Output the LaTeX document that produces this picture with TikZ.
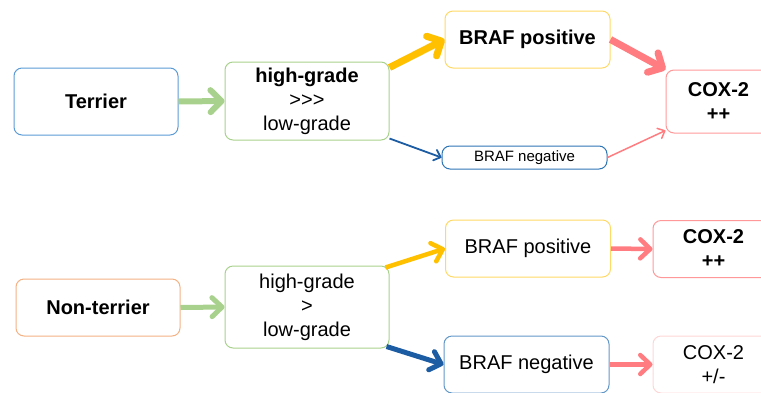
\documentclass[tikz,border=0pt]{standalone}
\usepackage{fontspec}
\setmainfont{Liberation Sans}
\usetikzlibrary{arrows.meta}
\definecolor{terrierblue}{HTML}{5B9BD5}
\definecolor{otherorange}{HTML}{F4B183}
\definecolor{gradegreen}{HTML}{A9D18E}
\definecolor{posyellow}{HTML}{FFD966}
\definecolor{posgold}{HTML}{FFC000}
\definecolor{negblue}{HTML}{2E75B6}
\definecolor{negline}{HTML}{1C5CA3}
\definecolor{coxpink}{HTML}{FF9999}
\definecolor{coxpale}{HTML}{FFD6D6}
\definecolor{arrowpink}{HTML}{FF7C80}
\tikzset{
    box/.style = {rectangle, rounded corners=8pt, draw, line width=1pt, align=center, inner sep=0pt, font=\fontsize{20}{24}\selectfont},
    breed/.style = {box, minimum width=164pt, minimum height=67pt},
    grade/.style = {box, draw=gradegreen, minimum width=164pt, minimum height=80pt},
    braf/.style = {box, minimum width=165pt, minimum height=57pt},
    cox/.style = {box, minimum height=57pt},
    arrowbig/.style = {line width=6pt, -{Straight Barb[round, length=11pt, width=22pt]}},
    arrowmid/.style = {line width=4.5pt, -{Straight Barb[round, length=10pt, width=19pt]}},
    arrowthin/.style = {line width=1.8pt, -{Straight Barb[round, length=6pt, width=11pt]}}
}
\begin{document}
\begin{tikzpicture}[x=1pt, y=-1pt]
\useasboundingbox (0,0) rectangle (761,392);
\clip (0,0) rectangle (761,392);

% terrier row
\node (terrier) [breed, draw=terrierblue] at (96,101.5) {\textbf{Terrier}};
\node (hgtop) [grade, minimum height=78pt] at (307,101) {\textbf{high-grade}\\>{}>{}>\\low-grade};
\node (postop) [braf, draw=posyellow] at (527.5,39.5) {\textbf{BRAF positive}};
\node (negtop) [braf, draw=negblue, minimum height=23pt, font=\fontsize{15}{18}\selectfont] at (524.5,157.5) {BRAF negative};
\node (coxtop) [cox, draw=coxpink, minimum width=105pt, minimum height=63pt] at (718.5,101.5) {\textbf{COX-2}\\\textbf{++}};

% non-terrier row
\node (other) [breed, draw=otherorange, minimum height=57pt] at (98,307.5) {\textbf{Non-terrier}};
\node (hgbot) [grade, minimum height=82pt] at (307,307) {high-grade\\>\\low-grade};
\node (posbot) [braf, draw=posyellow] at (528,248.5) {BRAF positive};
\node (negbot) [braf, draw=negblue!75] at (526.5,364.5) {BRAF negative};
\node (coxbot) [cox, draw=coxpink, minimum width=121pt] at (713.5,249) {\textbf{COX-2}\\\textbf{++}};
\node (coxpm) [cox, draw=coxpale, minimum width=121pt] at (713.5,364.5) {COX-2\\+/-};

\draw [arrowbig, gradegreen] (terrier.east) -- (hgtop.west);
\draw [arrowbig, line width=7pt, posgold] ([yshift=-6pt]hgtop.north east) -- (postop.west);
\draw [arrowthin, negline] ([yshift=2pt]hgtop.south east) -- (negtop.west);
\draw [arrowbig, line width=7pt, arrowpink] (postop.east) -- (coxtop.north west);
\draw [arrowthin, line width=1.5pt, arrowpink] (negtop.east) -- ([yshift=3pt]coxtop.south west);

\draw [arrowmid, line width=5pt, gradegreen] (other.east) -- (hgbot.west);
\draw [arrowmid, posgold] ([xshift=-4pt, yshift=-2pt]hgbot.north east) -- (posbot.west);
\draw [arrowmid, line width=5pt, negline] ([xshift=-3pt, yshift=2pt]hgbot.south east) -- (negbot.west);
\draw [arrowmid, arrowpink] (posbot.east) -- (coxbot.west);
\draw [arrowmid, arrowpink] (negbot.east) -- (coxpm.west);
\end{tikzpicture}
\end{document}
